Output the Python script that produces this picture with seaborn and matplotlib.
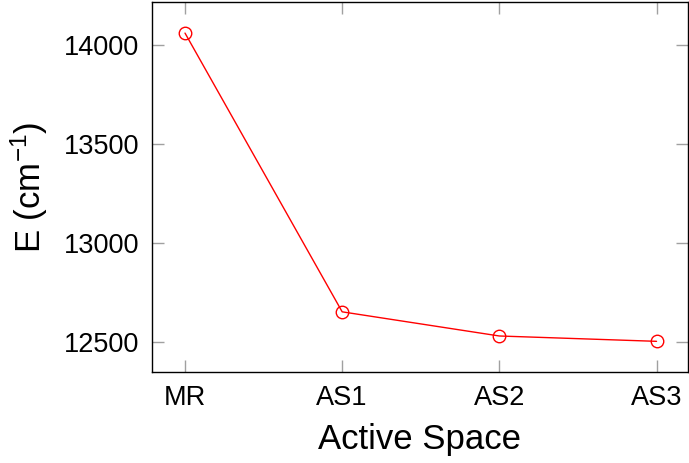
import matplotlib
matplotlib.use("Agg")
import matplotlib.pyplot as plt
import seaborn as sns
import pandas as pd

categories = ["MR", "AS1", "AS2", "AS3"]
energies = [14060, 12652, 12530, 12503]
yticks = [12500, 13000, 13500, 14000]

sns.set_theme(style="white")
plt.rcParams['font.family'] = ['Liberation Sans', 'DejaVu Sans']
plt.rcParams['mathtext.fontset'] = 'custom'
plt.rcParams['mathtext.rm'] = 'Liberation Sans'
plt.rcParams['mathtext.it'] = 'Liberation Sans'
plt.rcParams['text.color'] = 'black'
plt.rcParams['axes.labelcolor'] = 'black'
plt.rcParams['xtick.color'] = 'black'
plt.rcParams['ytick.color'] = 'black'

df = pd.DataFrame({"x": range(len(categories)), "E": energies})

fig = plt.figure(figsize=(6.89, 4.63), dpi=100)
ax = fig.add_axes([0.2206, 0.1965, 0.7779, 0.7992])
sns.lineplot(data=df, x="x", y="E", ax=ax, color="red", linewidth=1.0,
             marker="o", markersize=9, markerfacecolor="none",
             markeredgecolor="red", markeredgewidth=1.0)

ax.set_xlim(-0.21, 3.2)
ax.set_ylim(12348, 14217)
ax.set_xticks(range(len(categories)))
ax.set_xticklabels(categories)
ax.set_yticks(yticks)
ax.set_yticklabels([str(v) for v in yticks])
ax.tick_params(axis="both", which="both", direction="in", length=8.5, width=1,
               color="#a0a0a0", labelcolor="black", labelsize=19.5,
               top=True, right=True, bottom=True, left=True, pad=9)
for s in ax.spines.values():
    s.set_color("black")
    s.set_linewidth(1.0)
ax.set_xlabel("Active Space", fontsize=25, labelpad=9)
ax.set_ylabel("E (cm$^{-1}$)", fontsize=25, labelpad=10)
ax.grid(False)

fig.savefig("out.png", dpi=100)
